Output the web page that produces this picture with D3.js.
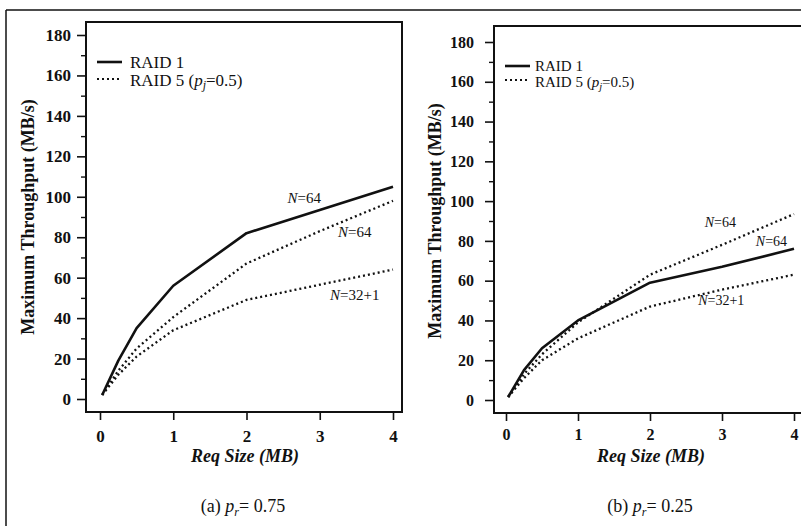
<!DOCTYPE html>
<html>
<head>
<meta charset="utf-8">
<script src="https://cdn.jsdelivr.net/npm/d3@7"></script>
<style>
  html, body { margin: 0; padding: 0; background: #fff; }
  svg { display: block; }
  text { font-family: 'Liberation Serif', 'Times New Roman', serif; fill: #111; }
</style>
</head>
<body>
<svg id="chart" width="801" height="526"></svg>
<script>
// ---------- data ----------
const reqSize = [0.03, 0.25, 0.5, 1, 2, 3, 4];           // MB
const xTicks = [0, 1, 2, 3, 4];
const yTicks = [0, 20, 40, 60, 80, 100, 120, 140, 160, 180];
const yMinorTicks = [10, 30, 50, 70, 90, 110, 130, 150, 170];

// (a) p_r = 0.75
const raid1_a   = [2, 19, 35, 56, 82, 93.5, 105];
const raid5_64a = [2, 14, 25, 40.5, 67, 83, 98];
const raid5_33a = [2, 12, 21, 34, 49, 56.5, 64];
// (b) p_r = 0.25
const raid1_b   = [1.5, 15, 26, 40, 59, 67, 76];
const raid5_64b = [1.5, 13, 23, 39, 63, 78, 93.5];
const raid5_33b = [1.5, 11, 20, 31, 47, 55.5, 63];

// annotation labels [x (MB), y (MB/s), text suffix]
const labels_a = [[2.56, 97, "=64"], [3.25, 80, "=64"], [3.14, 49, "=32+1"]];
const labels_b = [[2.76, 87, "=64"], [3.47, 77.4, "=64"], [2.67, 47.8, "=32+1"]];

const legendNames = ["RAID 1", "RAID 5"];
const captions = [["(a) ", "r", "= 0.75"], ["(b) ", "r", "= 0.25"]];

// ---------- layout ----------
const svg = d3.select("#chart");
const INK = "#111";

// outer scan border
svg.append("line").attr("x1", 6).attr("x2", 801).attr("y1", 10).attr("y2", 10)
  .attr("stroke", INK).attr("stroke-width", 1.5);
svg.append("line").attr("x1", 6).attr("x2", 6).attr("y1", 10).attr("y2", 526)
  .attr("stroke", INK).attr("stroke-width", 1.5);

const panels = [
  { frame: {x0: 86, x1: 402, y0: 22, y1: 412}, xr: [100, 393], yr: [399, 35],
    series: [raid1_a, raid5_64a, raid5_33a], labels: labels_a,
    tickFont: 17, yPad: 6, xPad: 10, labFont: 15,
    ylabX: 28, legend: {x: 97, y1: 62, y2: 79, t1: 68, t2: 86, font: 17, tx: 130},
    xlabX: 245, cap: captions[0], capX: 243 },
  { frame: {x0: 494, x1: 812, y0: 26, y1: 413}, xr: [506, 794], yr: [400, 42],
    series: [raid1_b, raid5_64b, raid5_33b], labels: labels_b,
    tickFont: 16, yPad: 11, xPad: 8, labFont: 14,
    ylabX: 435, legend: {x: 505, y1: 66, y2: 80, t1: 71, t2: 87, font: 15, tx: 535},
    xlabX: 651, cap: captions[1], capX: 650 }
];

panels.forEach(p => {
  const g = svg.append("g");
  const x = d3.scaleLinear().domain([0, 4]).range(p.xr);
  const y = d3.scaleLinear().domain([0, 180]).range(p.yr);
  const f = p.frame;

  // frame
  g.append("rect").attr("x", f.x0).attr("y", f.y0)
    .attr("width", f.x1 - f.x0).attr("height", f.y1 - f.y0)
    .attr("fill", "none").attr("stroke", INK).attr("stroke-width", 2);

  // y axis
  const ya = g.append("g").attr("transform", `translate(${f.x0},0)`)
    .call(d3.axisLeft(y).tickValues(yTicks).tickSize(9).tickPadding(p.yPad).tickFormat(d3.format("d")));
  ya.select(".domain").remove();
  ya.selectAll("line").attr("stroke", INK).attr("stroke-width", 1.6);
  ya.selectAll("text").attr("font-size", p.tickFont).attr("font-family", "'Liberation Serif', serif")
    .attr("fill", INK).attr("font-weight", "bold");
  const ym = g.append("g").attr("transform", `translate(${f.x0},0)`)
    .call(d3.axisLeft(y).tickValues(yMinorTicks).tickSize(5).tickFormat(""));
  ym.select(".domain").remove();
  ym.selectAll("line").attr("stroke", INK).attr("stroke-width", 1.4);

  // x axis
  const xa = g.append("g").attr("transform", `translate(0,${f.y1})`)
    .call(d3.axisBottom(x).tickValues(xTicks).tickSize(8).tickPadding(p.xPad).tickFormat(d3.format("d")));
  xa.select(".domain").remove();
  xa.selectAll("line").attr("stroke", INK).attr("stroke-width", 1.6);
  xa.selectAll("text").attr("font-size", p.tickFont).attr("font-family", "'Liberation Serif', serif")
    .attr("fill", INK).attr("font-weight", "bold");

  // lines
  const line = d3.line().x((d, i) => x(reqSize[i])).y(d => y(d));
  p.series.forEach((s, k) => {
    g.append("path").datum(s).attr("d", line).attr("fill", "none")
      .attr("stroke", INK)
      .attr("stroke-width", k === 0 ? 2.6 : 2.3)
      .attr("stroke-dasharray", k === 0 ? null : "2,3")
      .attr("stroke-linejoin", "round");
  });

  // curve labels
  p.labels.forEach(l => {
    const t = g.append("text").attr("x", x(l[0])).attr("y", y(l[1])).attr("font-size", p.labFont);
    t.append("tspan").attr("font-style", "italic").text("N");
    t.append("tspan").text(l[2]);
  });

  // legend
  const L = p.legend;
  g.append("line").attr("x1", L.x).attr("x2", L.x + 25).attr("y1", L.y1).attr("y2", L.y1)
    .attr("stroke", INK).attr("stroke-width", 2.6);
  g.append("line").attr("x1", L.x).attr("x2", L.x + 25).attr("y1", L.y2).attr("y2", L.y2)
    .attr("stroke", INK).attr("stroke-width", 2).attr("stroke-dasharray", "2,3");
  g.append("text").attr("x", L.tx).attr("y", L.t1).attr("font-size", L.font)
    .text(legendNames[0]);
  const t5 = g.append("text").attr("x", L.tx).attr("y", L.t2).attr("font-size", L.font);
  t5.append("tspan").text(legendNames[1] + " (");
  t5.append("tspan").attr("font-style", "italic").text("p");
  t5.append("tspan").attr("font-style", "italic").attr("font-size", L.font * 0.7).attr("dy", 3).text("j");
  t5.append("tspan").attr("dy", -3).text("=0.5)");

  // y label
  g.append("text")
    .attr("transform", `translate(${p.ylabX},${(y(0) + y(180)) / 2}) rotate(-90)`)
    .attr("text-anchor", "middle").attr("dy", "0.35em")
    .attr("font-size", 18).attr("font-weight", "bold")
    .text("Maximum Throughput (MB/s)");

  // x label
  g.append("text").attr("x", p.xlabX).attr("y", 462).attr("text-anchor", "middle")
    .attr("font-size", 18).attr("font-style", "italic").attr("font-weight", "bold")
    .text("Req Size (MB)");

  // caption
  const c = g.append("text").attr("x", p.capX).attr("y", 512).attr("text-anchor", "middle")
    .attr("font-size", 18);
  c.append("tspan").text(p.cap[0]);
  c.append("tspan").attr("font-style", "italic").text("p");
  c.append("tspan").attr("font-style", "italic").attr("font-size", 12).attr("dy", 4).text(p.cap[1]);
  c.append("tspan").attr("dy", -4).text(p.cap[2]);
});
</script>
</body>
</html>
